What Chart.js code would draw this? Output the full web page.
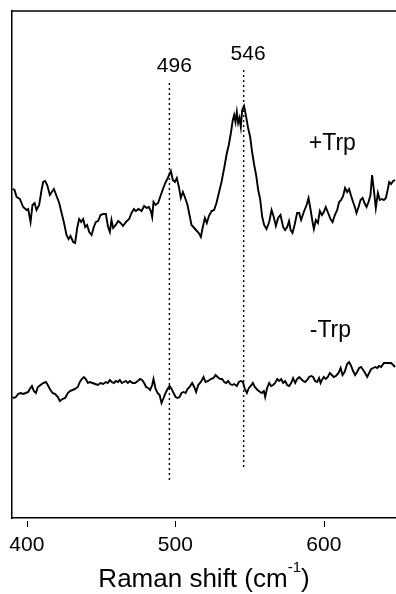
<!DOCTYPE html>
<html>
<head>
<meta charset="utf-8">
<script src="https://cdn.jsdelivr.net/npm/chart.js@4.4.1/dist/chart.umd.min.js"></script>
<style>
  html, body { margin: 0; padding: 0; background: #fff; }
  canvas { display: block; }
</style>
</head>
<body>
<canvas id="raman" width="396" height="594"></canvas>
<script>
// Raman spectra (arbitrary intensity units), with and without Trp
const plusTrpShift = [390.4,391.7,393.1,395.3,397.5,399.8,400.9,402.5,403.8,405.2,406.5,408.3,409.9,411.0,412.3,413.7,415.5,416.8,418.2,420.0,421.8,423.4,424.9,426.7,428.1,429.4,431.2,432.5,433.9,435.2,436.6,437.9,439.3,440.6,442.0,443.6,445.1,446.5,448.0,449.6,451.4,453.2,454.7,455.9,457.0,458.1,459.9,461.5,463.1,464.8,466.7,468.9,470.5,472.1,473.4,475.2,477.2,479.0,480.6,482.2,483.5,484.4,485.3,486.7,488.4,490.7,492.9,495.2,497.0,498.3,499.7,501.0,502.4,503.7,505.1,506.4,508.2,509.8,510.9,512.7,514.5,515.8,517.2,518.5,519.9,521.2,522.6,524.4,526.1,527.7,529.3,531.1,532.9,534.7,536.0,537.4,538.7,539.6,540.5,541.4,542.3,543.2,544.1,545.0,546.3,547.7,549.0,550.4,551.7,553.1,554.4,555.8,557.1,558.5,559.8,561.4,563.2,564.8,566.3,567.7,569.2,570.8,572.6,573.9,575.3,576.6,577.6,578.9,580.3,582.0,583.4,584.7,586.5,588.4,589.7,591.1,592.4,593.3,594.6,596.0,597.3,598.7,600.0,601.3,602.9,604.5,605.9,607.4,609.0,610.3,611.7,613.0,614.3,615.7,617.0,618.4,619.7,621.1,622.0,623.4,624.7,626.1,627.4,628.8,630.1,631.4,632.5,633.7,635.0,636.4,637.7,639.1,640.4,641.8,643.1,644.0,645.3,646.7,648.0];
const plusTrpIntensity = [329,328,321,319,311,308,309,296,313,315,308,313,328,336,337,333,323,326,329,322,315,305,296,283,279,282,276,275,290,299,296,299,291,293,286,283,291,296,297,303,304,304,291,286,298,290,293,297,295,292,296,299,305,309,307,309,307,312,310,311,307,301,316,313,315,325,334,341,347,338,336,340,331,320,326,321,313,301,293,290,287,285,281,291,300,295,302,307,308,315,325,336,350,365,373,385,398,403,396,406,395,400,391,408,412,401,390,381,366,353,343,328,319,301,293,289,296,308,301,292,300,303,291,288,291,297,288,285,293,305,305,298,306,313,320,308,296,289,298,295,307,303,306,311,305,299,296,303,308,316,318,322,330,326,329,322,316,310,305,311,318,320,315,311,316,323,343,328,310,325,318,319,318,320,329,336,334,337,338];

const minusTrpShift = [390.4,391.2,392.6,394.1,395.8,397.5,399.3,400.9,402.0,403.4,404.7,406.1,407.4,409.2,411.0,412.8,414.1,415.5,417.3,419.1,420.9,422.2,424.0,425.8,427.6,429.0,430.8,432.5,434.3,435.7,437.0,438.4,439.7,441.1,442.4,444.2,446.0,447.8,449.6,451.4,453.2,454.5,455.9,457.2,458.6,459.9,461.3,462.6,464.0,465.3,466.7,468.0,469.4,471.2,472.9,474.7,476.3,477.6,479.0,480.3,481.7,483.0,484.4,485.3,486.7,488.0,489.4,490.7,492.1,493.4,494.8,496.1,497.5,498.8,500.2,501.5,502.8,504.2,505.5,506.9,508.2,509.6,511.3,512.7,514.0,515.4,517.2,519.0,520.3,522.1,523.9,525.7,527.1,528.4,530.2,531.5,532.9,534.2,535.6,536.9,538.3,539.6,541.4,542.8,544.1,545.5,546.8,548.2,549.5,550.8,552.2,553.5,555.4,557.1,558.2,559.6,560.5,561.8,563.2,564.5,565.9,567.2,568.6,569.9,571.3,572.6,574.0,575.3,576.6,578.0,579.3,580.7,582.0,583.4,584.7,586.1,587.4,588.8,590.1,591.5,592.8,594.1,595.5,596.8,597.8,598.7,600.0,601.3,602.7,604.0,605.4,606.7,608.1,609.9,611.3,612.6,614.0,615.7,617.0,618.4,619.7,621.1,622.4,623.8,625.1,626.5,627.8,629.2,630.5,631.9,633.2,634.6,635.9,637.2,638.6,640.4,642.2,644.0,645.3,646.7,648.0];
const minusTrpIntensity = [121,120,121,124,125,124,125,126,129,132,127,125,131,133,135,136,133,129,125,124,121,117,119,120,125,127,128,129,131,136,139,141,139,135,136,135,134,133,135,134,136,135,138,136,135,137,136,138,135,136,137,135,137,135,135,137,139,138,135,131,130,128,133,139,129,125,123,115,120,125,129,132,129,125,121,120,121,125,126,125,129,131,135,131,126,133,136,141,136,137,139,140,143,141,139,139,136,135,137,134,133,134,132,136,137,136,129,125,130,132,135,131,128,126,125,127,121,130,135,132,133,135,139,137,139,135,137,133,132,135,140,135,139,141,139,137,136,138,141,142,141,137,136,140,135,138,141,139,141,145,143,141,142,145,150,143,146,154,156,152,147,143,146,150,151,148,145,141,145,149,150,151,150,152,151,155,155,155,155,153,151];

// Marked bands: dotted guides and their labels
const peakPositions = [496, 546];
const peakLabels = ['496', '546'];
const peakLineBottom = [38, 51];
const peakLineTop = [438, 450];
const peakLabelX = [499.3, 549.0];
const peakLabelY = [446, 458];

// Trace names
const traceLabels = ['+Trp', '-Trp'];
const traceLabelX = [589.9, 590.5];
const traceLabelY = [368, 181];

// Axis
const xTicks = [400, 500, 600];
const xMin = 390, xMax = 648.6;
const yMin = 0, yMax = 507;

const FONT = "'Liberation Sans', Arial, Helvetica, sans-serif";

const toPoints = (xs, ys) => xs.map((x, i) => ({ x, y: ys[i] }));

const datasets = [
  { label: traceLabels[0], data: toPoints(plusTrpShift, plusTrpIntensity) },
  { label: traceLabels[1], data: toPoints(minusTrpShift, minusTrpIntensity) }
].map(d => Object.assign(d, {
  borderColor: '#000', borderWidth: 1.9, pointRadius: 0, tension: 0, fill: false
}));

peakPositions.forEach((p, i) => {
  datasets.push({
    label: peakLabels[i],
    data: [{ x: p, y: peakLineBottom[i] }, { x: p, y: peakLineTop[i] }],
    borderColor: '#000', borderWidth: 1.4, borderDash: [2, 3],
    pointRadius: 0, fill: false
  });
});

// Top frame line, tick marks below the axis, annotations and the axis title
const decorations = {
  id: 'decorations',
  afterDraw(chart) {
    const { ctx, chartArea, scales: { x, y } } = chart;
    ctx.save();
    ctx.strokeStyle = '#000';
    ctx.lineWidth = 1.5;
    ctx.beginPath();
    ctx.moveTo(chartArea.left - 0.75, chartArea.top);
    ctx.lineTo(chartArea.right, chartArea.top);
    ctx.stroke();

    ctx.lineWidth = 1;
    xTicks.forEach(v => {
      const px = Math.round(x.getPixelForValue(v)) + 0.5;
      ctx.beginPath();
      ctx.moveTo(px, chartArea.bottom + 3);
      ctx.lineTo(px, chartArea.bottom + 9);
      ctx.stroke();
    });

    ctx.fillStyle = '#000';
    ctx.textBaseline = 'alphabetic';
    ctx.textAlign = 'center';
    ctx.font = `21px ${FONT}`;
    peakLabels.forEach((t, i) => {
      ctx.fillText(t, x.getPixelForValue(peakLabelX[i]), y.getPixelForValue(peakLabelY[i]));
    });

    ctx.textAlign = 'left';
    ctx.font = `23px ${FONT}`;
    traceLabels.forEach((t, i) => {
      ctx.fillText(t, x.getPixelForValue(traceLabelX[i]), y.getPixelForValue(traceLabelY[i]));
    });

    // "Raman shift (cm-1)" with a raised exponent
    const main = 'Raman shift (cm', sup = '-1', close = ')';
    const mainFont = `26px ${FONT}`, supFont = `15px ${FONT}`;
    ctx.font = mainFont; const w1 = ctx.measureText(main).width, w3 = ctx.measureText(close).width;
    ctx.font = supFont; const w2 = ctx.measureText(sup).width;
    const total = w1 + w2 + w3;
    const cx = (chartArea.left + chartArea.right) / 2;
    let tx = cx - total / 2;
    const base = chart.height - 7;
    ctx.font = mainFont; ctx.fillText(main, tx, base); tx += w1;
    ctx.font = supFont; ctx.fillText(sup, tx, base - 15); tx += w2;
    ctx.font = mainFont; ctx.fillText(close, tx, base);
    ctx.restore();
  }
};

new Chart(document.getElementById('raman'), {
  type: 'line',
  data: { datasets },
  options: {
    responsive: false,
    animation: false,
    devicePixelRatio: 1,
    layout: { padding: { left: 12, top: 11, right: 0, bottom: 36 } },
    plugins: { legend: { display: false }, tooltip: { enabled: false } },
    scales: {
      x: {
        type: 'linear', position: 'bottom', min: xMin, max: xMax,
        grid: { display: false, drawTicks: false },
        border: { display: true, color: '#000', width: 1.5 },
        ticks: { color: '#000', font: { family: FONT, size: 21 }, padding: 15, maxRotation: 0, autoSkip: false },
        afterBuildTicks: s => { s.ticks = xTicks.map(v => ({ value: v })); },
        afterFit: s => { s.height = 40; s.paddingLeft = 0; s.paddingRight = 0; }
      },
      y: {
        type: 'linear', min: yMin, max: yMax,
        grid: { display: false, drawTicks: false },
        border: { display: true, color: '#000', width: 1.5 },
        ticks: { display: false },
        afterFit: s => { s.width = 0; s.paddingTop = 0; s.paddingBottom = 0; }
      }
    }
  },
  plugins: [decorations]
});
</script>
</body>
</html>
